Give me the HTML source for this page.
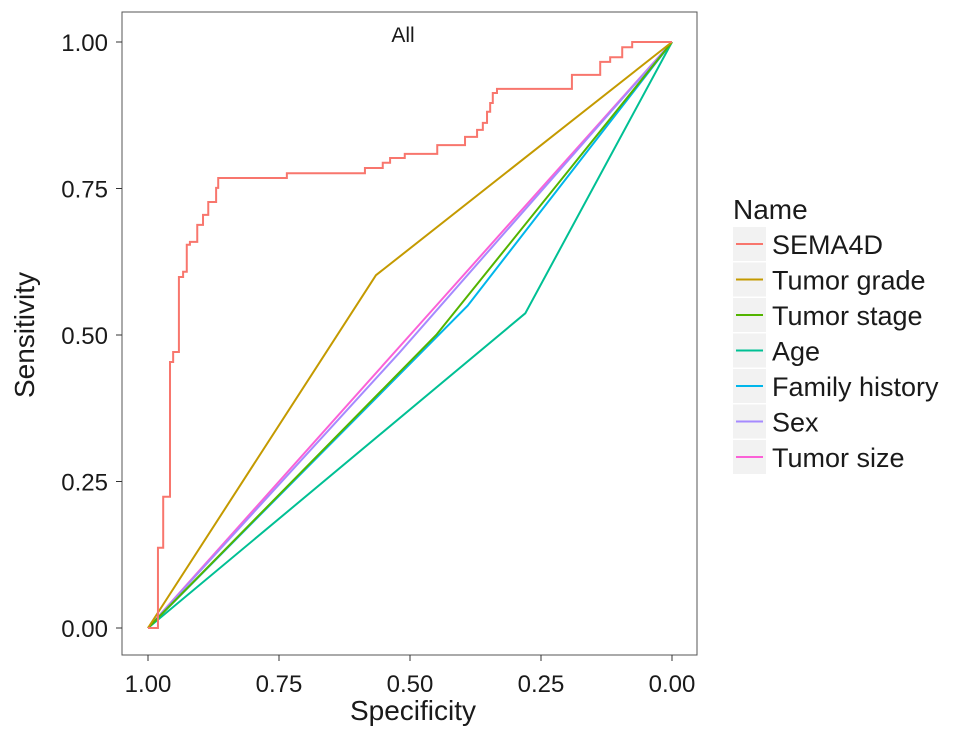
<!DOCTYPE html>
<html><head><meta charset="utf-8"><style>
body{margin:0;background:#fff;font-family:"Liberation Sans",sans-serif}
svg text{font-family:"Liberation Sans",sans-serif;fill:#1a1a1a}
</style></head><body>
<svg id="chart" width="969" height="740">
<rect x="122" y="12" width="575" height="643" fill="#fff" stroke="#555" stroke-width="1"/>
<g id="axes"></g>
<g id="series"></g>
<text x="403" y="42" text-anchor="middle" font-size="21">All</text>
<text x="413" y="720" text-anchor="middle" font-size="28">Specificity</text>
<text transform="translate(34,335) rotate(-90)" text-anchor="middle" font-size="28">Sensitivity</text>
<text x="733" y="219" font-size="28">Name</text>
<g id="legend"></g>
</svg>
<script>
const names=["SEMA4D","Tumor grade","Tumor stage","Age","Family history","Sex","Tumor size"];
const colors=["#F8766D","#C49A00","#53B400","#00C094","#00B6EB","#A58AFF","#FB61D7"];
const ticks=[0,0.25,0.5,0.75,1];
const tickLabels=["0.00","0.25","0.50","0.75","1.00"];
const semaSpec=[1,0.981,0.971,0.958,0.952,0.941,0.933,0.926,0.920,0.906,0.895,0.885,0.870,0.866,0.735,0.586,0.552,0.538,0.510,0.448,0.395,0.372,0.361,0.353,0.347,0.342,0.334,0.191,0.137,0.118,0.095,0.076,0];
const semaSens=[0,0.137,0.224,0.454,0.471,0.599,0.608,0.654,0.659,0.688,0.705,0.727,0.751,0.768,0.776,0.785,0.794,0.802,0.809,0.824,0.838,0.850,0.862,0.881,0.896,0.913,0.920,0.944,0.966,0.974,0.991,1.0,1.0];
const kneeSpec=[0.565,0.45,0.28,0.39,0.52,0.50];
const kneeSens=[0.602,0.50,0.537,0.55,0.47,0.50];
const NS="http://www.w3.org/2000/svg";
const X=v=>672-v*524, Y=v=>628-v*586;
function mk(t,a,p){const e=document.createElementNS(NS,t);for(const k in a)e.setAttribute(k,a[k]);p.appendChild(e);return e;}
const axes=document.getElementById('axes');
ticks.forEach((t,i)=>{
 const a=mk('line',{x1:116,x2:122,y1:Y(t),y2:Y(t),stroke:'#333'},axes);
 
 
 const l=mk('text',{x:108,y:Y(t)+9,'text-anchor':'end','font-size':24},axes);l.textContent=tickLabels[i];
 
 
 const b=mk('line',{x1:X(t),x2:X(t),y1:655,y2:661,stroke:'#333'},axes);
 
 
 const m=mk('text',{x:X(t),y:692,'text-anchor':'middle','font-size':24},axes);m.textContent=tickLabels[i];
 
 
});
const ser=document.getElementById('series');
for(let i=kneeSpec.length-1;i>=0;i--){
 const d=`M${X(1)},${Y(0)}L${X(kneeSpec[i])},${Y(kneeSens[i])}L${X(0)},${Y(1)}`;
 const p=mk('path',{d:d,fill:'none',stroke:colors[i+1],'stroke-width':2},ser);
 
 
}
let d=`M${X(semaSpec[0])},${Y(semaSens[0])}`;
for(let i=1;i<semaSpec.length;i++){d+=`H${X(semaSpec[i])}V${Y(semaSens[i])}`;}
const sp=mk('path',{d:d,fill:'none',stroke:colors[0],'stroke-width':2},ser);


const lg=document.getElementById('legend');
names.forEach((n,i)=>{
 const y=227+i*35.5;
 const r=mk('rect',{x:733,y:y,width:33,height:34,fill:'#f2f2f2'},lg);
 
 
 mk('line',{x1:736,x2:763,y1:y+17,y2:y+17,stroke:colors[i],'stroke-width':2},lg);
 const t=mk('text',{x:772,y:y+27,'font-size':27},lg);t.textContent=n;
 
 
});
</script>
</body></html>
